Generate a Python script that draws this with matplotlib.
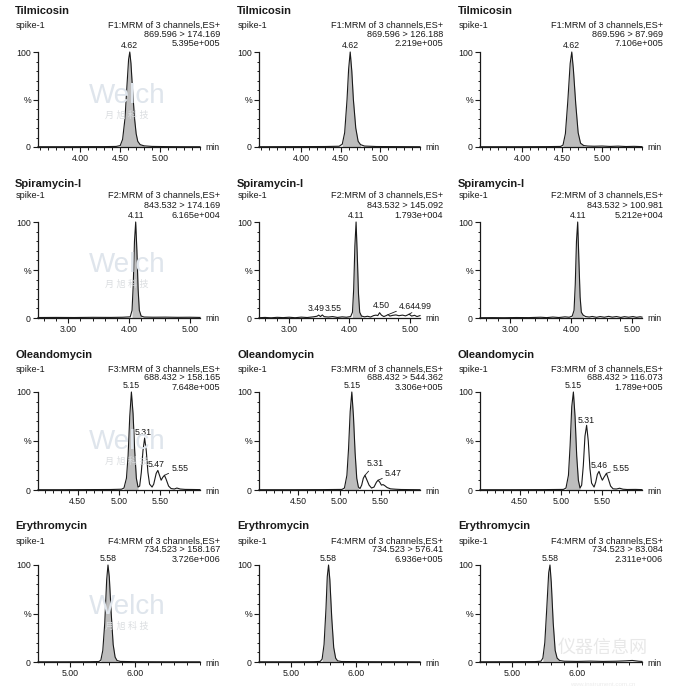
import numpy as np
import matplotlib
matplotlib.use("Agg")
import matplotlib.pyplot as plt
from matplotlib.ticker import MultipleLocator

plt.rcParams['font.family'] = ['Liberation Sans', 'Noto Sans CJK SC', 'DejaVu Sans']

# ---------------- data ----------------
ROW_TITLES = ['Tilmicosin', 'Spiramycin-I', 'Oleandomycin', 'Erythromycin']
SAMPLE = 'spike-1'
FUNCS = ['F1:MRM of 3 channels,ES+', 'F2:MRM of 3 channels,ES+',
         'F3:MRM of 3 channels,ES+', 'F4:MRM of 3 channels,ES+']
TRANSITIONS = [
    ['869.596 > 174.169', '869.596 > 126.188', '869.596 > 87.969'],
    ['843.532 > 174.169', '843.532 > 145.092', '843.532 > 100.981'],
    ['688.432 > 158.165', '688.432 > 544.362', '688.432 > 116.073'],
    ['734.523 > 158.167', '734.523 > 576.41', '734.523 > 83.084'],
]
INTENSITIES = [
    ['5.395e+005', '2.219e+005', '7.106e+005'],
    ['6.165e+004', '1.793e+004', '5.212e+004'],
    ['7.648e+005', '3.306e+005', '1.789e+005'],
    ['3.726e+006', '6.936e+005', '2.311e+006'],
]
X_RANGES = [(3.47, 5.50), (2.50, 5.17), (4.02, 5.98), (4.50, 7.00)]
X_MAJOR = [[4.0, 4.5, 5.0], [3.0, 4.0, 5.0], [4.5, 5.0, 5.5], [5.0, 6.0]]
X_MAJOR_LABELS = [['4.00', '4.50', '5.00'], ['3.00', '4.00', '5.00'],
                  ['4.50', '5.00', '5.50'], ['5.00', '6.00']]

# Tilmicosin
TIL_174_T = [3.47, 3.8, 4.1, 4.3, 4.45, 4.50, 4.53, 4.56, 4.585, 4.605, 4.62, 4.635, 4.655, 4.68, 4.70, 4.72, 4.75, 4.80, 4.90, 5.1, 5.3, 5.50]
TIL_174_Y = [0.3, 0.3, 0.4, 0.4, 0.6, 1.5, 8, 30, 65, 92, 100, 88, 60, 30, 14, 6, 2.5, 1.2, 0.6, 0.4, 0.3, 0.3]
TIL_126_T = [3.47, 3.9, 4.3, 4.48, 4.52, 4.55, 4.58, 4.60, 4.62, 4.64, 4.66, 4.69, 4.72, 4.75, 4.80, 4.95, 5.2, 5.50]
TIL_126_Y = [0.3, 0.4, 0.5, 0.8, 3, 15, 50, 82, 100, 80, 50, 20, 6, 2.5, 1, 0.5, 0.4, 0.3]
TIL_88_T = [3.47, 3.9, 4.3, 4.48, 4.51, 4.54, 4.57, 4.60, 4.62, 4.64, 4.67, 4.70, 4.73, 4.77, 4.82, 4.9, 5.0, 5.1, 5.2, 5.3, 5.4, 5.50]
TIL_88_Y = [0.3, 0.3, 0.4, 0.6, 2, 14, 48, 88, 100, 82, 45, 15, 4, 1.5, 1, 0.8, 1.0, 0.6, 0.9, 0.5, 0.7, 0.4]

# Spiramycin-I
SPI_174_T = [2.50, 2.8, 3.1, 3.4, 3.7, 3.9, 4.02, 4.05, 4.07, 4.09, 4.11, 4.13, 4.15, 4.17, 4.20, 4.25, 4.4, 4.6, 4.8, 5.0, 5.17]
SPI_174_Y = [0.5, 0.6, 0.5, 0.7, 0.6, 0.8, 1.2, 8, 35, 80, 100, 70, 30, 8, 2, 1, 0.8, 0.9, 0.7, 0.8, 0.6]
SPI_145_T = [2.50, 2.60, 2.70, 2.80, 2.90, 3.00, 3.10, 3.20, 3.30, 3.40, 3.46, 3.49, 3.52, 3.55, 3.58, 3.65, 3.72, 3.80, 3.88, 3.95,
             4.02, 4.05, 4.07, 4.09, 4.11, 4.13, 4.15, 4.17, 4.20, 4.25, 4.30, 4.35, 4.40, 4.44, 4.47, 4.50, 4.53, 4.57, 4.61, 4.64,
             4.67, 4.72, 4.77, 4.82, 4.88, 4.93, 4.96, 4.99, 5.03, 5.08, 5.12, 5.17]
SPI_145_Y = [0.3, 0.6, 0.2, 0.7, 0.4, 0.8, 0.3, 0.9, 0.5, 1.2, 1.8, 3.0, 1.5, 3.2, 1.4, 1.0, 1.5, 0.6, 1.2, 0.8,
             1.5, 6, 30, 75, 100, 65, 25, 6, 2, 1.2, 1.8, 1.0, 2.5, 3.0, 2.5, 5.5, 3.0, 1.5, 2.5, 3.5,
             2.0, 2.8, 3.2, 2.4, 3.0, 2.2, 3.0, 4.0, 2.0, 2.8, 1.5, 2.5]
SPI_101_T = [2.50, 2.7, 2.9, 3.1, 3.3, 3.5, 3.6, 3.7, 3.8, 3.9, 3.97, 4.02, 4.05, 4.07, 4.09, 4.11, 4.13, 4.15, 4.17, 4.20,
             4.24, 4.30, 4.35, 4.42, 4.48, 4.55, 4.62, 4.68, 4.75, 4.82, 4.88, 4.95, 5.02, 5.08, 5.14, 5.17]
SPI_101_Y = [0.3, 0.4, 0.3, 0.5, 0.4, 0.8, 0.4, 1.0, 0.5, 1.2, 0.8, 2, 8, 35, 80, 100, 60, 22, 6, 3,
             1.5, 1.0, 1.6, 0.7, 1.5, 0.8, 1.7, 0.9, 1.5, 0.6, 1.4, 0.8, 1.5, 0.7, 1.3, 0.9]

# Oleandomycin
OLE_158_T = [4.02, 4.3, 4.6, 4.9, 5.03, 5.06, 5.09, 5.11, 5.13, 5.15, 5.17, 5.19, 5.21, 5.23, 5.25, 5.27, 5.29, 5.31, 5.33, 5.35,
             5.37, 5.40, 5.42, 5.45, 5.47, 5.49, 5.51, 5.53, 5.55, 5.57, 5.60, 5.63, 5.67, 5.70, 5.74, 5.80, 5.9, 5.98]
OLE_158_Y = [0.3, 0.3, 0.4, 0.5, 0.8, 2, 12, 35, 75, 100, 78, 40, 12, 3, 4, 18, 40, 53, 40, 18,
             6, 3, 6, 17, 20, 15, 10, 13, 15, 11, 4, 1.5, 1.0, 2, 1, 0.6, 0.5, 0.4]
OLE_544_T = [4.02, 4.4, 4.8, 5.03, 5.06, 5.09, 5.11, 5.13, 5.15, 5.17, 5.19, 5.21, 5.23, 5.25, 5.27, 5.29, 5.31, 5.33, 5.36, 5.39,
             5.42, 5.45, 5.47, 5.49, 5.51, 5.53, 5.55, 5.58, 5.62, 5.68, 5.75, 5.85, 5.98]
OLE_544_Y = [0.3, 0.3, 0.4, 0.6, 2, 15, 42, 80, 100, 75, 38, 12, 3, 1.5, 5, 12, 15, 11, 5, 2,
             3, 8, 10, 8, 5, 5.5, 4.5, 2.5, 1.2, 0.8, 0.5, 0.4, 0.3]
OLE_116_T = [4.02, 4.4, 4.8, 5.03, 5.06, 5.09, 5.11, 5.13, 5.15, 5.17, 5.19, 5.21, 5.23, 5.25, 5.27, 5.29, 5.31, 5.33, 5.35, 5.37,
             5.40, 5.42, 5.44, 5.46, 5.48, 5.50, 5.52, 5.55, 5.57, 5.60, 5.63, 5.67, 5.71, 5.75, 5.80, 5.9, 5.98]
OLE_116_Y = [0.3, 0.3, 0.4, 0.6, 2, 15, 45, 85, 100, 75, 35, 10, 2, 5, 25, 55, 66, 50, 22, 7,
             3, 8, 16, 19, 14, 10, 13, 17, 12, 4, 1.2, 1.0, 1.8, 0.8, 0.5, 0.6, 0.4]

# Erythromycin
ERY_158_T = [4.50, 4.9, 5.3, 5.44, 5.47, 5.50, 5.53, 5.56, 5.58, 5.60, 5.63, 5.66, 5.69, 5.72, 5.77, 6.0, 6.5, 7.0]
ERY_158_Y = [0.2, 0.2, 0.3, 0.5, 2, 12, 40, 85, 100, 88, 50, 18, 5, 1.5, 0.6, 0.3, 0.2, 0.2]
ERY_576_T = [4.50, 5.0, 5.35, 5.45, 5.48, 5.51, 5.54, 5.56, 5.58, 5.60, 5.63, 5.66, 5.69, 5.72, 5.78, 6.2, 7.0]
ERY_576_Y = [0.2, 0.2, 0.3, 0.6, 3, 18, 55, 88, 100, 85, 45, 15, 4, 1.2, 0.5, 0.3, 0.2]
ERY_83_T = [4.50, 5.0, 5.35, 5.44, 5.47, 5.50, 5.53, 5.56, 5.58, 5.60, 5.63, 5.66, 5.69, 5.73, 5.80, 6.0, 6.2, 6.4, 6.6, 6.75, 6.85, 6.95, 7.0]
ERY_83_Y = [0.2, 0.3, 0.4, 0.8, 4, 20, 55, 92, 100, 82, 40, 12, 4, 1.5, 0.8, 0.6, 0.9, 0.6, 0.8, 1.2, 1.6, 0.8, 0.6]

TRACES = [
    [(TIL_174_T, TIL_174_Y), (TIL_126_T, TIL_126_Y), (TIL_88_T, TIL_88_Y)],
    [(SPI_174_T, SPI_174_Y), (SPI_145_T, SPI_145_Y), (SPI_101_T, SPI_101_Y)],
    [(OLE_158_T, OLE_158_Y), (OLE_544_T, OLE_544_Y), (OLE_116_T, OLE_116_Y)],
    [(ERY_158_T, ERY_158_Y), (ERY_576_T, ERY_576_Y), (ERY_83_T, ERY_83_Y)],
]
# integrated (shaded) main peak windows
PEAK_WINDOWS = [
    [(4.50, 4.80), (4.52, 4.75), (4.51, 4.77)],
    [(4.05, 4.20), (4.05, 4.20), (4.02, 4.20)],
    [(5.06, 5.23), (5.06, 5.23), (5.06, 5.23)],
    [(5.47, 5.72), (5.48, 5.72), (5.47, 5.73)],
]
# peak labels: (rt, height, text)
PEAK_LABELS = [
    [[(4.62, 100, '4.62')], [(4.62, 100, '4.62')], [(4.62, 100, '4.62')]],
    [[(4.11, 100, '4.11')],
     [(4.11, 100, '4.11'), (3.49, 3.0, '3.49'), (3.55, 3.2, '3.55'), (4.50, 5.5, '4.50'),
      (4.64, 3.5, '4.64'), (4.99, 4.0, '4.99')],
     [(4.11, 100, '4.11')]],
    [[(5.15, 100, '5.15'), (5.31, 53, '5.31'), (5.47, 20, '5.47'), (5.55, 15, '5.55')],
     [(5.15, 100, '5.15'), (5.31, 15, '5.31'), (5.47, 10, '5.47')],
     [(5.15, 100, '5.15'), (5.31, 66, '5.31'), (5.46, 19, '5.46'), (5.55, 17, '5.55')]],
    [[(5.58, 100, '5.58')], [(5.58, 100, '5.58')], [(5.58, 100, '5.58')]],
]

# ---------------- layout (pixels) ----------------
W, H = 687, 691
COL_X0 = [38, 259, 480]
COL_X1 = [200, 420, 642]
ROW_Y100 = [52, 222, 392, 565]
ROW_Y0 = [147, 318, 490, 662]
TITLE_X = [15, 237, 458]
RIGHT_X = [220, 443, 663]
TITLE_Y = [11, 184, 355, 526]
LINE1_Y = [25, 195, 369, 541]
LINE2_Y = [34.5, 205, 378, 550]
LINE3_Y = [44, 215, 388, 559]
WATERMARK_Y = [96, 265, 442, 607]
MINOR_STEP = [0.1, 0.2, 0.1, 0.2]
# label offsets (points, ha, leader) keyed by (row, col, text)
LABEL_STYLE = {
    (1, 1, '3.49'): (-1.5, 1.5, 'center', False),
    (1, 1, '3.55'): (8, 1.5, 'center', False),
    (1, 1, '4.50'): (1, 2.0, 'center', False),
    (1, 1, '4.64'): (8, 2.5, 'left', True),
    (1, 1, '4.99'): (4, 2.5, 'left', True),
    (2, 0, '5.31'): (-1, 0.5, 'center', False),
    (2, 0, '5.47'): (-1.5, 1.0, 'center', False),
    (2, 0, '5.55'): (5, 2.0, 'left', True),
    (2, 1, '5.31'): (1, 5.0, 'left', True),
    (2, 1, '5.47'): (5, 1.5, 'left', True),
    (2, 2, '5.31'): (0, 0.5, 'center', False),
    (2, 2, '5.46'): (0, 1.0, 'center', False),
    (2, 2, '5.55'): (4.8, 0.5, 'left', True),
}

TXT = '#1a1a1a'
FILL = '#bdbdbd'

fig = plt.figure(figsize=(W / 100, H / 100), dpi=100)
fig.patch.set_facecolor('white')


def fx(px):
    return px / W


def fy(py):
    return 1 - py / H


for r in range(4):
    # faint watermark in first column (drawn first, behind)
    fig.text(fx(127), fy(WATERMARK_Y[r]), 'Welch', fontsize=20, color='#dfe5ec',
             ha='center', va='center', zorder=0)
    fig.text(fx(127), fy(WATERMARK_Y[r] + 19), '月 旭 科 技', fontsize=6.5, color='#dadde0',
             ha='center', va='center', zorder=0)
    for c in range(3):
        x0, x1 = COL_X0[c], COL_X1[c]
        y100, y0 = ROW_Y100[r], ROW_Y0[r]
        ax = fig.add_axes([fx(x0), fy(y0), (x1 - x0) / W, (y0 - y100) / H])
        ax.set_facecolor('none')
        t, y = TRACES[r][c]
        t = np.asarray(t, float)
        y = np.asarray(y, float)
        a, b = PEAK_WINDOWS[r][c]
        mask = (t >= a - 1e-9) & (t <= b + 1e-9)
        ax.fill_between(t, y, 0, where=mask, color=FILL, lw=0, clip_on=False, zorder=1)
        ax.plot(t, y, color=TXT, lw=0.8, clip_on=False, zorder=2)
        ax.set_xlim(*X_RANGES[r])
        ax.set_ylim(0, 100)
        for s in ['top', 'right']:
            ax.spines[s].set_visible(False)
        for s in ['left', 'bottom']:
            ax.spines[s].set_linewidth(0.9)
            ax.spines[s].set_color(TXT)
        ax.set_xticks(X_MAJOR[r])
        ax.set_xticklabels(X_MAJOR_LABELS[r])
        ax.xaxis.set_minor_locator(MultipleLocator(MINOR_STEP[r]))
        ax.set_yticks([0, 50, 100])
        ax.set_yticklabels(['0', '%', '100'])
        ax.yaxis.set_minor_locator(MultipleLocator(10))
        ax.tick_params(axis='both', which='major', direction='out', length=3.6, width=0.8,
                       colors=TXT, labelsize=6.3, pad=1.5)
        ax.tick_params(axis='both', which='minor', direction='out', length=1.8, width=0.7, colors=TXT)
        # min label
        fig.text(fx(x1 + 5), fy(y0 + 1), 'min', fontsize=6.3, color=TXT, ha='left', va='center')
        # headers
        fig.text(fx(TITLE_X[c]), fy(TITLE_Y[r]), ROW_TITLES[r], fontsize=8, fontweight='bold',
                 color=TXT, ha='left', va='center')
        fig.text(fx(TITLE_X[c] + 1), fy(LINE1_Y[r]), SAMPLE, fontsize=6.6, color=TXT, ha='left', va='center')
        fig.text(fx(RIGHT_X[c]), fy(LINE1_Y[r]), FUNCS[r], fontsize=6.6, color=TXT, ha='right', va='center')
        fig.text(fx(RIGHT_X[c]), fy(LINE2_Y[r]), TRANSITIONS[r][c], fontsize=6.6, color=TXT, ha='right', va='center')
        fig.text(fx(RIGHT_X[c]), fy(LINE3_Y[r]), INTENSITIES[r][c], fontsize=6.6, color=TXT, ha='right', va='center')
        # peak labels
        for (rt, h, lab) in PEAK_LABELS[r][c]:
            dx, dy, ha, leader = LABEL_STYLE.get((r, c, lab), (0, 1.5, 'center', False))
            kw = {}
            if leader:
                kw['arrowprops'] = dict(arrowstyle='-', lw=0.6, color=TXT, shrinkA=0, shrinkB=0)
            ax.annotate(lab, xy=(rt, h), xytext=(dx, dy), textcoords='offset points',
                        ha=ha, va='bottom', fontsize=6.3, color=TXT, annotation_clip=False, **kw)

fig.text(fx(603), fy(648), '仪器信息网', fontsize=13, color='#e8e8e8', ha='center', va='center', zorder=0)
fig.text(fx(603), fy(684), 'www.instrument.com.cn', fontsize=4.5, color='#ececec', ha='center', va='center', zorder=0)

fig.savefig('out.png', dpi=100, facecolor='white')
